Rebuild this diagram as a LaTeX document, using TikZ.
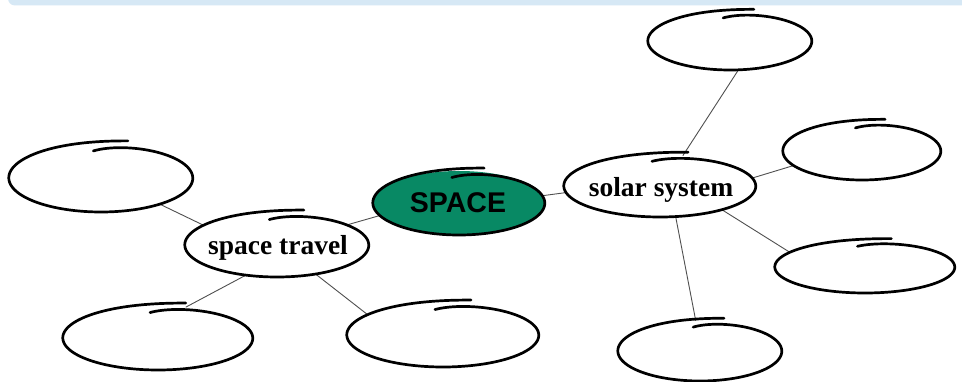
\documentclass[tikz,border=0pt]{standalone}
\usepackage{fontspec}
\setmainfont{Liberation Serif}
\newfontfamily\headsans{Liberation Sans}
\usetikzlibrary{shapes.geometric}

\definecolor{bandblue}{RGB}{214,232,245}
\definecolor{spacegreen}{RGB}{8,137,100}
\definecolor{linkgray}{RGB}{80,80,80}

\tikzset{
  blob/.style={ellipse, draw=none, inner sep=0pt},
  loopline/.style={draw=black, line width=2.7pt, line cap=round, line join=round},
  link/.style={draw=linkgray, line width=0.9pt},
  serlabel/.style={inner sep=0pt, anchor=base, font=\bfseries\fontsize{27.5}{30}\selectfont},
  headlabel/.style={inner sep=0pt, anchor=base, font=\headsans\bfseries\fontsize{28.5}{30}\selectfont},
}

% an invisible elliptical node that connectors attach to
\newcommand{\bubble}[6][]{%
  \node[blob, minimum width=2*#5, minimum height=2*#6, #1] (#2) at (#3,#4) {};
}
% a hand-drawn ring: one stroke that goes once round and overshoots its start
\newcommand{\sketchring}[4]{%
  \draw[loopline] plot[domain=96:-285, samples=150, smooth, variable=\t]
    ({#1+#3*(1-0.2*exp(-(96-\t)/22)+0.13*exp(-(\t+285)/26))*cos(\t)},
     {#2-#4*(1-0.2*exp(-(96-\t)/22)+0.13*exp(-(\t+285)/26))*sin(\t)});
}

\begin{document}
\begin{tikzpicture}[x=1pt, y=-1pt]
  \useasboundingbox (0,0) rectangle (962,382);
  \fill[white] (0,0) rectangle (962,382);

  % header band
  \fill[bandblue, rounded corners=7pt] (8,-20) rectangle (990,5.5);

  % nodes
  \bubble{tl}{101}{178}{92}{34}
  \bubble{st}{277}{245}{92}{32}
  \bubble[fill=spacegreen]{sp}{459}{203}{86}{32}
  \bubble{ss}{660}{186}{96}{31}
  \bubble{tp}{730}{41}{82}{29}
  \bubble{rm}{862}{151}{79}{29}
  \bubble{rl}{865}{267}{90}{26}
  \bubble{br}{700}{351}{82}{30}
  \bubble{bm}{443}{335}{96}{32}
  \bubble{bl}{158}{338}{95}{32}

  % connectors
  \draw[link] (tl.-24) -- (st.165);
  \draw[link] (st.16) -- (sp.189);
  \draw[link] (st.224) -- (bl.48);
  \draw[link] (st.323) -- (bm.165);
  \draw[link] (sp.5) -- (ss.184);
  \draw[link] (ss.53) -- (tp.286);
  \draw[link] (ss.5) -- (rm.192);
  \draw[link] (ss.339) -- (rl.169);
  \draw[link] (ss.297) -- (br.98);

  % hand-drawn outlines
  \sketchring{101}{178}{92}{34}
  \sketchring{277}{245}{92}{32}
  \sketchring{459}{203}{86}{32}
  \sketchring{660}{186}{96}{31}
  \sketchring{730}{41}{82}{29}
  \sketchring{862}{151}{79}{29}
  \sketchring{865}{267}{90}{26}
  \sketchring{700}{351}{82}{30}
  \sketchring{443}{335}{96}{32}
  \sketchring{158}{338}{95}{32}

  % labels
  \node[serlabel] (sttext) at (278,255) {space travel};
  \node[headlabel] (sptext) at (458,213) {SPACE};
  \node[serlabel] (sstext) at (661,197) {solar system};
\end{tikzpicture}
\end{document}
